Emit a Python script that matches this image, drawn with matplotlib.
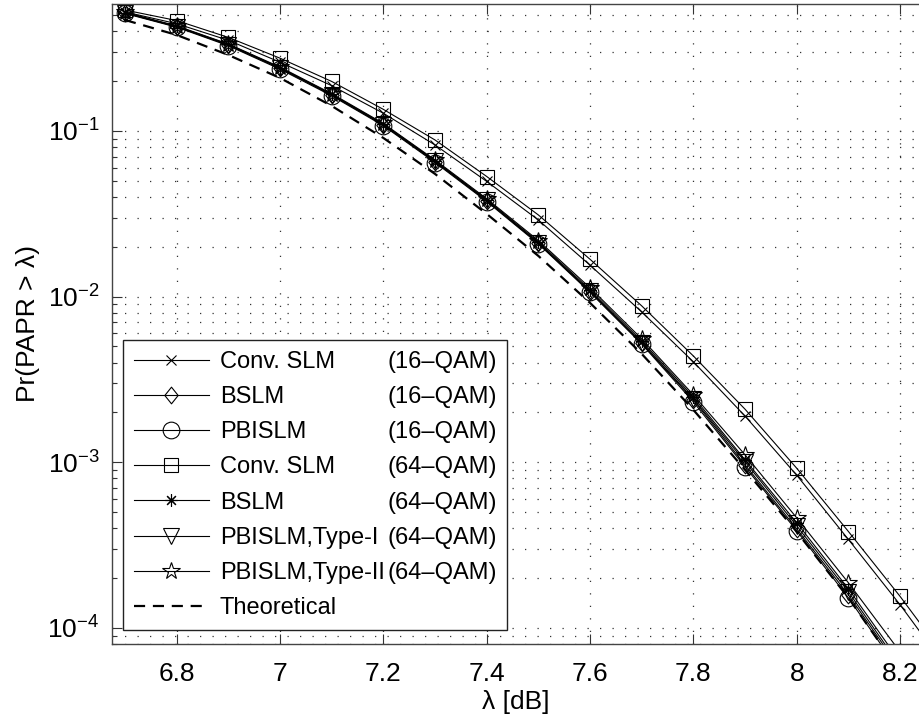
import matplotlib
matplotlib.use("Agg")
import matplotlib.pyplot as plt
from matplotlib.lines import Line2D
from matplotlib.path import Path
from matplotlib.ticker import LogLocator, NullFormatter, FixedLocator, FixedFormatter

plt.rcParams['font.family'] = ['Liberation Sans', 'DejaVu Sans']
plt.rcParams['mathtext.fontset'] = 'custom'
plt.rcParams['mathtext.rm'] = 'Liberation Sans'
plt.rcParams['mathtext.it'] = 'Liberation Sans:italic'
plt.rcParams['axes.unicode_minus'] = False

# ---------------- data ----------------
x = [6.7, 6.8, 6.9, 7.0, 7.1, 7.2, 7.3, 7.4, 7.5, 7.6, 7.7, 7.8, 7.9, 8.0, 8.1, 8.2]
x_ext = x + [8.3]

conv_slm_16 = [0.523, 0.444, 0.3526, 0.260, 0.1877, 0.1279, 0.0823, 0.0496, 0.0290,
               0.01547, 0.00808, 0.00404, 0.00190, 8.35e-4, 3.42e-4, 1.38e-4, 5.2e-5]
bslm_16 = [0.5152, 0.4261, 0.3304, 0.2389, 0.1649, 0.1087, 0.06528, 0.03797, 0.02101,
           0.01072, 0.005234, 0.002379, 9.645e-4, 3.964e-4, 1.584e-4, 5.665e-5]
pbislm_16 = [0.512, 0.423, 0.327, 0.236, 0.163, 0.1075, 0.0645, 0.0375, 0.0208,
             0.0106, 0.00517, 0.002314, 9.38e-4, 3.855e-4, 1.519e-4, 5.43e-5]
conv_slm_64 = [0.537, 0.464, 0.367, 0.275, 0.199, 0.135, 0.0882, 0.0531, 0.0311,
               0.0168, 0.00879, 0.00438, 0.00209, 9.2e-4, 3.82e-4, 1.55e-4, 5.9e-5]
bslm_64 = [0.518, 0.429, 0.333, 0.241, 0.1665, 0.110, 0.0661, 0.0385, 0.0214,
           0.0110, 0.00540, 0.002481, 1.034e-3, 4.309e-4, 1.722e-4, 6.24e-5]
pbislm_t1_64 = [0.516, 0.427, 0.331, 0.240, 0.1655, 0.109, 0.0656, 0.0381, 0.0211,
                0.0108, 0.00528, 0.002413, 1.006e-3, 4.13e-4, 1.65e-4, 5.9e-5]
pbislm_t2_64 = [0.520, 0.431, 0.335, 0.243, 0.168, 0.111, 0.0668, 0.0390, 0.0218,
                0.0113, 0.00556, 0.002551, 1.108e-3, 4.617e-4, 1.872e-4, 7.17e-5]
theoretical = [0.4676, 0.3797, 0.2875, 0.2089, 0.1416, 0.09073, 0.05501, 0.03155, 0.01760,
               0.009162, 0.004511, 0.002071, 8.998e-4, 3.80e-4, 1.519e-4, 5.43e-5]

method_labels = ['Conv. SLM', 'BSLM', 'PBISLM', 'Conv. SLM', 'BSLM',
                 'PBISLM,Type-I', 'PBISLM,Type-II', 'Theoretical']
qam_labels = ['(16\u2013QAM)', '(16\u2013QAM)', '(16\u2013QAM)', '(64\u2013QAM)',
              '(64\u2013QAM)', '(64\u2013QAM)', '(64\u2013QAM)', '']
x_ticks = [6.8, 7.0, 7.2, 7.4, 7.6, 7.8, 8.0, 8.2]
x_ticklabels = ['6.8', '7', '7.2', '7.4', '7.6', '7.8', '8', '8.2']
xlim = (6.6748, 8.2385)
ylim = (8.0e-5, 0.584)

# ---------------- figure ----------------
W, H = 920, 727
fig = plt.figure(figsize=(W / 100, H / 100), dpi=100)
ax = fig.add_axes([112 / W, 1 - 644 / H, (W - 112) / W, 640 / H])

diamond = Path([(0, 1), (0.8, 0), (0, -1), (-0.8, 0), (0, 1)],
               [Path.MOVETO, Path.LINETO, Path.LINETO, Path.LINETO, Path.CLOSEPOLY])

lw = 0.8
common = dict(color='black', lw=lw, mfc='none', mec='black', mew=0.8)
series = [
    (x_ext, conv_slm_16, dict(marker='x', ms=7)),
    (x, bslm_16, dict(marker=diamond, ms=12)),
    (x, pbislm_16, dict(marker='o', ms=12)),
    (x_ext, conv_slm_64, dict(marker='s', ms=10.5)),
    (x, bslm_64, dict(marker=(8, 2, 0), ms=9)),
    (x, pbislm_t1_64, dict(marker='v', ms=12)),
    (x, pbislm_t2_64, dict(marker='*', ms=13)),
]
handles = []
for xs, ys, st in series:
    h, = ax.plot(xs, ys, **common, **st)
    handles.append(h)
h, = ax.plot(x, theoretical, color='black', lw=1.6, linestyle=(0, (5, 3.5)))
handles.append(h)

ax.set_yscale('log')
ax.set_xlim(*xlim)
ax.set_ylim(*ylim)
ax.xaxis.set_major_locator(FixedLocator(x_ticks))
ax.xaxis.set_major_formatter(FixedFormatter(x_ticklabels))
ax.yaxis.set_major_locator(LogLocator(base=10, numticks=20))
ax.yaxis.set_minor_locator(LogLocator(base=10, subs=range(2, 10), numticks=50))
ax.yaxis.set_minor_formatter(NullFormatter())

gstyle = dict(color='#333333', linestyle=(0, (1, 9)), linewidth=0.9)
ax.grid(True, which='major', axis='x', **gstyle)
ax.grid(True, which='both', axis='y', **gstyle)

ax.tick_params(which='both', direction='in', top=True, right=False,
               labelsize=19, width=0.8, color='#333333')
ax.tick_params(which='major', length=7)
ax.tick_params(axis='x', which='major', pad=13)
ax.tick_params(axis='y', which='major', pad=9)
ax.tick_params(which='minor', length=3.5)
ax.spines['right'].set_visible(False)
for s in ['left', 'top', 'bottom']:
    ax.spines[s].set_color('#444444')
    ax.spines[s].set_linewidth(1.0)

ax.set_xlabel('\u03bb [dB]', fontsize=19, labelpad=3)
ax.set_ylabel('Pr(PAPR > \u03bb)', fontsize=19, labelpad=5)

# legend: method column + QAM column (invisible handles)
blank = [Line2D([], [], linestyle='none') for _ in qam_labels]
leg = ax.legend(handles + blank, method_labels + qam_labels, ncol=2,
                loc='lower left', bbox_to_anchor=(11 / 808, 14 / 640),
                borderaxespad=0, fontsize=17, frameon=True, fancybox=False,
                edgecolor='#222222', framealpha=1, numpoints=1,
                handlelength=3.2, handletextpad=0.45, columnspacing=-3.55,
                labelspacing=0.56, borderpad=0.45)
leg.get_frame().set_linewidth(1.0)

fig.savefig('out.png', dpi=100)
